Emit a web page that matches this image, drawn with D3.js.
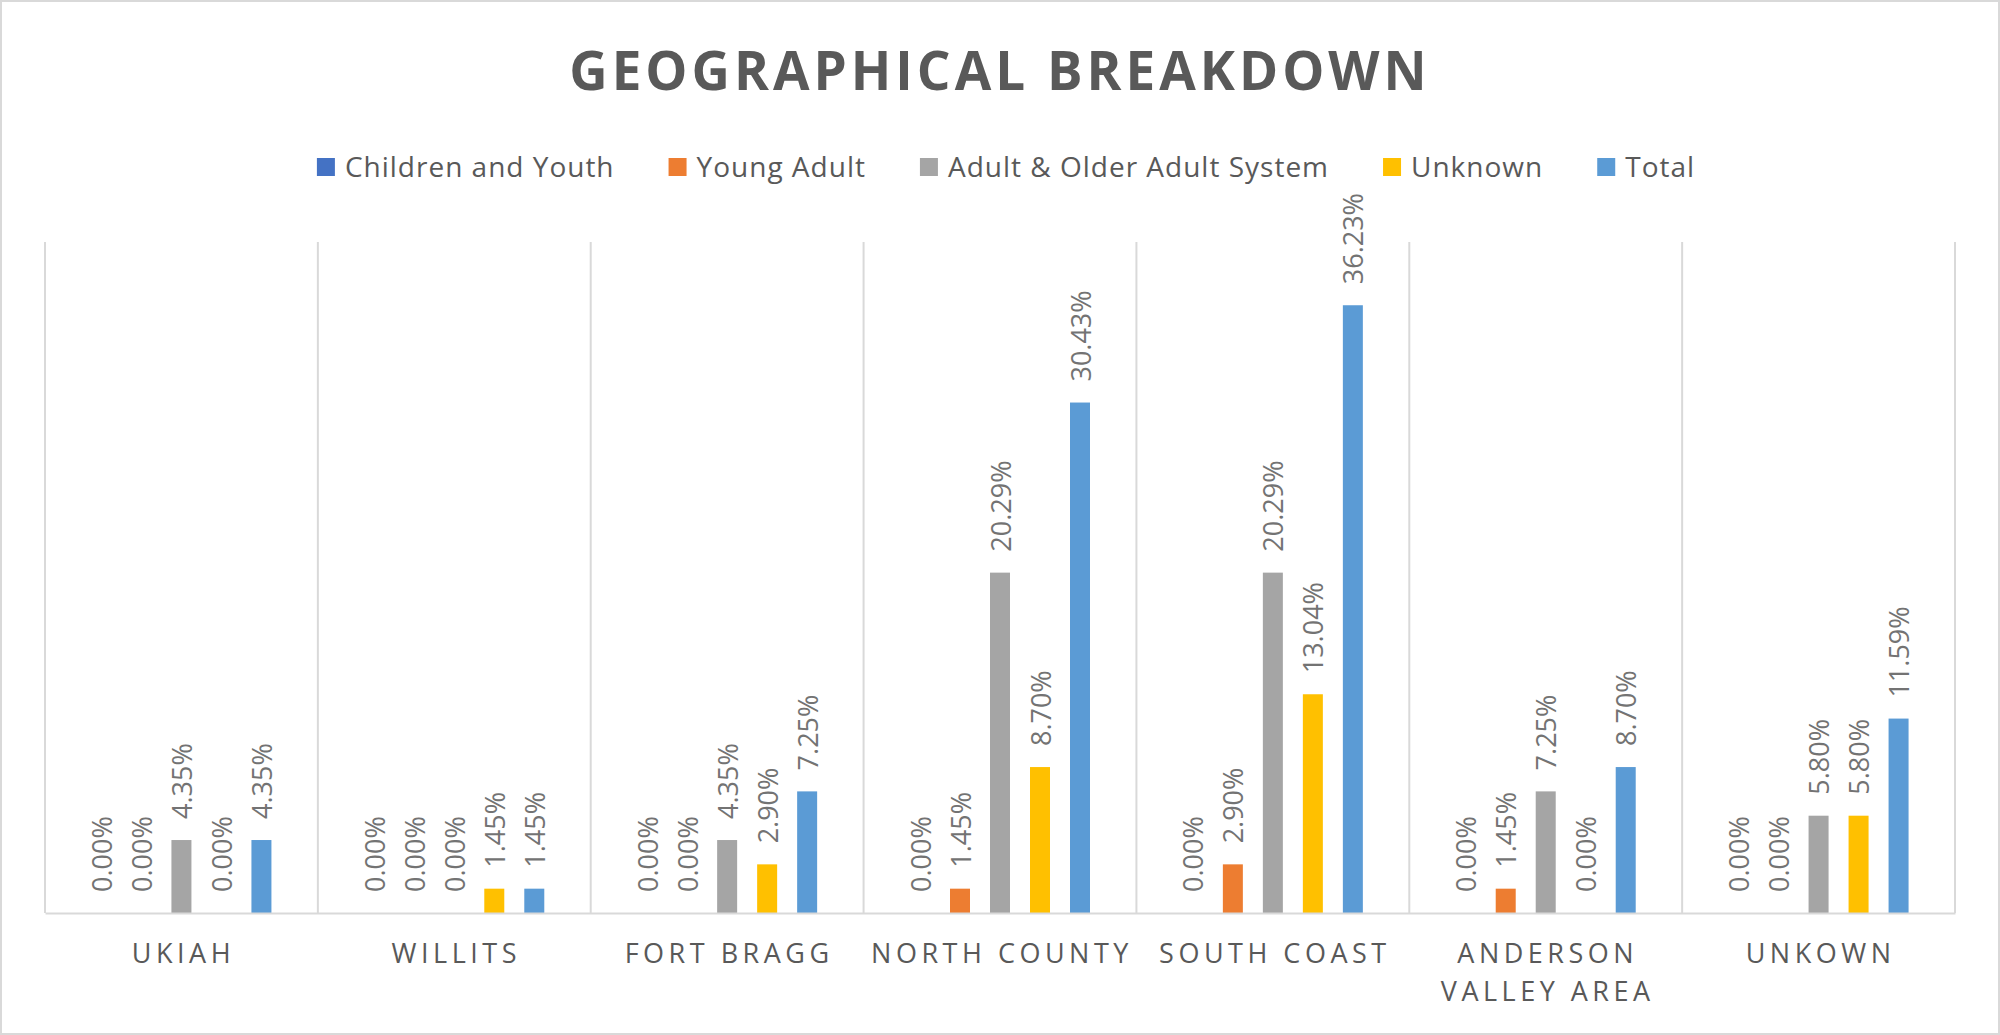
<!DOCTYPE html>
<html>
<head>
<meta charset="utf-8">
<script src="https://cdn.jsdelivr.net/npm/d3@7"></script>
<style>
  body { margin: 0; background: #fff; }
  svg { display: block; font-family: "Open Sans", sans-serif; }
</style>
</head>
<body>
<div id="chart"></div>
<script>
// Data (percent of total)
const categories = ["Ukiah", "Willits", "Fort Bragg", "North County", "South Coast", "Anderson Valley Area", "Unkown"];
const tickLines = [["UKIAH"], ["WILLITS"], ["FORT BRAGG"], ["NORTH COUNTY"], ["SOUTH COAST"], ["ANDERSON", "VALLEY AREA"], ["UNKOWN"]];
const seriesNames = ["Children and Youth", "Young Adult", "Adult & Older Adult System", "Unknown", "Total"];
const seriesColors = ["#4472C4", "#ED7D31", "#A5A5A5", "#FFC000", "#5B9BD5"];

const childrenYouth = [0, 0, 0, 0, 0, 0, 0];
const youngAdult    = [0, 0, 0, 1.45, 2.90, 1.45, 0];
const adultOlder    = [4.35, 0, 4.35, 20.29, 20.29, 7.25, 5.80];
const unknown       = [0, 1.45, 2.90, 8.70, 13.04, 0, 5.80];
const total         = [4.35, 1.45, 7.25, 30.43, 36.23, 8.70, 11.59];

const seriesValues = [childrenYouth, youngAdult, adultOlder, unknown, total];

// Layout
const W = 2000, H = 1035;
const plot = { left: 45, right: 1955, top: 242, bottom: 913 };

const svg = d3.select("#chart")
  .append("svg")
    .attr("width", W)
    .attr("height", H);

// outer chart border
svg.append("rect")
  .attr("x", 1).attr("y", 1)
  .attr("width", W - 2).attr("height", H - 2)
  .attr("fill", "#fff")
  .attr("stroke", "#d9d9d9")
  .attr("stroke-width", 2);

// Scales
const x0 = d3.scaleBand()
  .domain(categories)
  .range([plot.left, plot.right])
  .padding(0);

const x1 = d3.scaleBand()
  .domain(seriesNames)
  .range([-100, 100])
  .paddingInner(0.5)
  .paddingOuter(0.25);

const y = d3.scaleLinear()
  .domain([0, 40])
  .range([plot.bottom, plot.top]);

const color = d3.scaleOrdinal().domain(seriesNames).range(seriesColors);

// Vertical category separators
const bounds = categories.map(c => x0(c)).concat([plot.right]);
svg.append("g")
  .selectAll("line")
  .data(bounds)
  .join("line")
    .attr("x1", d => d).attr("x2", d => d)
    .attr("y1", y(40)).attr("y2", y(0))
    .attr("stroke", "#d9d9d9")
    .attr("stroke-width", 2);

// Bars
const flat = [];
seriesNames.forEach((s, i) => {
  categories.forEach((c, j) => flat.push({ series: s, cat: c, value: seriesValues[i][j] }));
});

const barX = d => x0(d.cat) + x0.bandwidth() / 2 + x1(d.series);

svg.append("g")
  .selectAll("rect")
  .data(flat.filter(d => d.value > 0))
  .join("rect")
    .attr("x", barX)
    .attr("y", d => y(d.value))
    .attr("width", x1.bandwidth())
    .attr("height", d => y(0) - y(d.value))
    .attr("fill", d => color(d.series));

// Data labels (rotated)
const fmt = d3.format(".2f");
svg.append("g")
  .selectAll("text")
  .data(flat)
  .join("text")
    .attr("transform", d => {
      const cx = barX(d) + x1.bandwidth() / 2;
      const cy = y(d.value) - 21;
      return `translate(${cx},${cy}) rotate(-90)`;
    })
    .attr("dominant-baseline", "central")
    .attr("text-anchor", "start")
    .attr("fill", "#737373")
    .style("font-size", "27px")
    .text(d => fmt(d.value) + "%");

// X axis
const xAxis = svg.append("g")
  .attr("transform", `translate(0,${plot.bottom})`)
  .call(d3.axisBottom(x0).tickSize(0).tickSizeOuter(0));

xAxis.select(".domain")
  .attr("stroke", "#d9d9d9")
  .attr("stroke-width", 2);

xAxis.selectAll(".tick text").each(function(d, i) {
  const t = d3.select(this)
    .attr("y", 50)
    .attr("dy", null)
    .attr("fill", "#595959")
    .style("font-size", "27px")
    .style("letter-spacing", "4.5px")
    .style("font-family", "'Open Sans', sans-serif")
    .text(null);
  tickLines[i].forEach((line, k) => {
    t.append("tspan")
      .attr("x", 2)
      .attr("dy", k === 0 ? 0 : 38)
      .text(line);
  });
});

// Title
svg.append("text")
  .attr("x", 1000)
  .attr("y", 90)
  .attr("text-anchor", "middle")
  .attr("fill", "#595959")
  .style("font-size", "53px")
  .style("font-weight", "bold")
  .style("letter-spacing", "4px")
  .text("GEOGRAPHICAL BREAKDOWN");

// Legend
const legend = svg.append("g").attr("class", "legend");
let lx = 0;
seriesNames.forEach((s, i) => {
  const g = legend.append("g").attr("transform", `translate(${lx},0)`);
  g.append("rect")
    .attr("x", 0).attr("y", 158)
    .attr("width", 18).attr("height", 18)
    .attr("fill", seriesColors[i]);
  const txt = g.append("text")
    .attr("x", 28).attr("y", 177)
    .attr("fill", "#595959")
    .style("font-size", "28px")
    .style("letter-spacing", "1px")
    .text(s);
  lx += 28 + txt.node().getComputedTextLength() + 54;
});
const legendWidth = lx - 54;
legend.attr("transform", `translate(${1006 - legendWidth / 2},0)`);
</script>
</body>
</html>
